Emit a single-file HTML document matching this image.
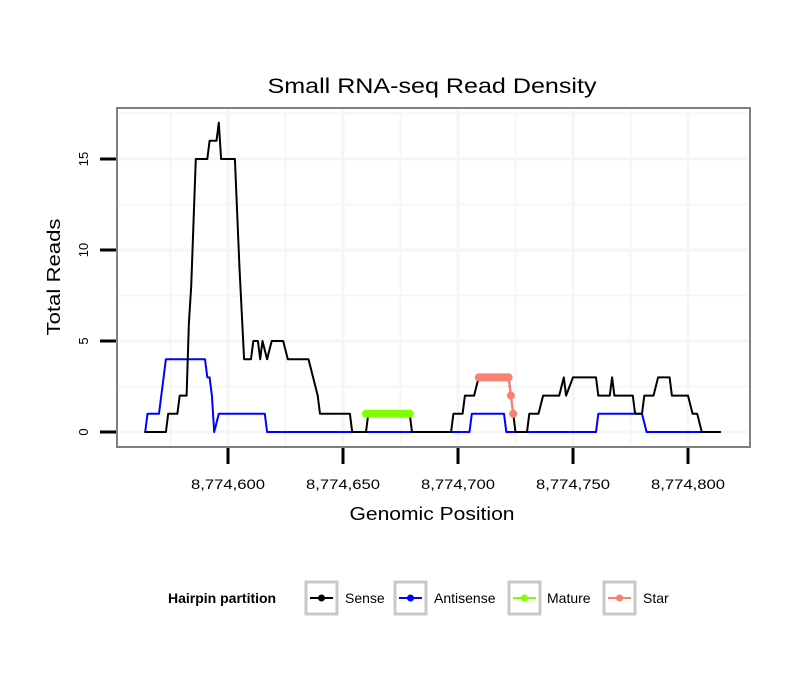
<!DOCTYPE html>
<html><head><meta charset="utf-8"><style>
body{margin:0;background:#fff;}
svg{display:block;font-family:"Liberation Sans",sans-serif;}
</style></head><body>
<svg id="chart" width="810" height="690" viewBox="0 0 810 690">
<text x="432" y="93" text-anchor="middle" font-size="21" textLength="329" lengthAdjust="spacingAndGlyphs">Small RNA-seq Read Density</text>
<rect x="117" y="108" width="633" height="339" fill="#fff" stroke="#7f7f7f" stroke-width="2"/>
<g id="grid"></g>
<g id="series"></g>
<g id="axes"></g>
<text x="432" y="520" text-anchor="middle" font-size="18" textLength="165" lengthAdjust="spacingAndGlyphs">Genomic Position</text>
<text transform="translate(60,277) rotate(-90)" text-anchor="middle" font-size="18" textLength="117" lengthAdjust="spacingAndGlyphs">Total Reads</text>
<g>
<text x="168" y="603" font-size="14" font-weight="bold">Hairpin partition</text>
<g><rect x="306" y="582" width="31" height="32" fill="#fff" stroke="#c8c8c8" stroke-width="3"/><line x1="310" y1="598" x2="333" y2="598" stroke="#000" stroke-width="2"/><circle cx="321.5" cy="598" r="3.5" fill="#000"/><text x="345" y="603" font-size="14">Sense</text></g>
<g><rect x="395" y="582" width="31" height="32" fill="#fff" stroke="#c8c8c8" stroke-width="3"/><line x1="399" y1="598" x2="422" y2="598" stroke="#0000ff" stroke-width="2"/><circle cx="410.5" cy="598" r="3.5" fill="#0000ff"/><text x="434" y="603" font-size="14">Antisense</text></g>
<g><rect x="509" y="582" width="31" height="32" fill="#fff" stroke="#c8c8c8" stroke-width="3"/><line x1="513" y1="598" x2="536" y2="598" stroke="#7fff00" stroke-width="2"/><circle cx="524.5" cy="598" r="3.5" fill="#7fff00"/><text x="547" y="603" font-size="14">Mature</text></g>
<g><rect x="604" y="582" width="31" height="32" fill="#fff" stroke="#c8c8c8" stroke-width="3"/><line x1="608" y1="598" x2="631" y2="598" stroke="#fa8072" stroke-width="2"/><circle cx="619.5" cy="598" r="3.5" fill="#fa8072"/><text x="643" y="603" font-size="14">Star</text></g>
</g>
</svg>
<script>
const xTicks = [8774600, 8774650, 8774700, 8774750, 8774800];
const xTickLabels = ["8,774,600", "8,774,650", "8,774,700", "8,774,750", "8,774,800"];
const yTicks = [0, 5, 10, 15];
const yTickLabels = ["0", "5", "10", "15"];
const senseX = [8774564,8774573,8774574,8774578,8774579,8774582,8774583,8774584,8774586,8774591,8774592,8774595,8774596,8774597,8774603,8774605,8774607,8774610,8774611,8774613,8774614,8774615,8774617,8774619,8774624,8774626,8774635,8774637,8774638,8774639,8774640,8774653,8774654,8774660,8774661,8774679,8774680,8774697,8774698,8774702,8774703,8774707,8774709,8774722,8774725,8774730,8774731,8774735,8774737,8774744,8774746,8774747,8774750,8774760,8774761,8774766,8774767,8774768,8774776,8774777,8774780,8774781,8774785,8774787,8774792,8774793,8774800,8774802,8774804,8774806,8774814];
const senseY = [0,0,1,1,2,2,6,8,15,15,16,16,17,15,15,9,4,4,5,5,4,5,4,5,5,4,4,3,2.5,2,1,1,0,0,1,1,0,0,1,1,2,2,3,3,0,0,1,1,2,2,3,2,3,3,2,2,3,2,2,1,1,2,2,3,3,2,2,1,1,0,0];
const antiX = [8774564,8774565,8774570,8774571,8774573,8774590,8774591,8774592,8774593,8774594,8774596,8774616,8774617,8774705,8774706,8774720,8774721,8774760,8774761,8774780,8774782,8774806];
const antiY = [0,1,1,2,4,4,3,3,2,0,1,1,0,0,1,1,0,0,1,1,0,0];
const matureX = [8774660,8774679];
const matureY = [1,1];
const starX = [8774709,8774722,8774723,8774724];
const starY = [3,3,2,1];

const X0 = 8774600, PX0 = 228, PXU = 2.3;
const Y0PX = 432, PYU = 18.2;
function xs(v){ return PX0 + (v - X0) * PXU; }
function ys(v){ return Y0PX - v * PYU; }
const NS = "http://www.w3.org/2000/svg";
function mk(tag, attrs, parent){ const e = document.createElementNS(NS, tag); for (const k in attrs) e.setAttribute(k, attrs[k]); parent.appendChild(e); return e; }
const grid = document.getElementById('grid'), series = document.getElementById('series'), axes = document.getElementById('axes');
const allX = [8774575,8774600,8774625,8774650,8774675,8774700,8774725,8774750,8774775,8774800];
allX.forEach(v => { const l = mk('line', {x1: xs(v), x2: xs(v), y1: 110, y2: 445, stroke: '#f5f5f5', 'stroke-width': (v % 50 === 0) ? 3 : 2}, grid);

 });
[0,2.5,5,7.5,10,12.5,15,17.5].forEach(v => { const l = mk('line', {x1: 119, x2: 748, y1: ys(v), y2: ys(v), stroke: '#f5f5f5', 'stroke-width': (v % 5 === 0) ? 3 : 2}, grid);

 });
xTicks.forEach((v, i) => {
  const t = mk('line', {x1: xs(v), x2: xs(v), y1: 448, y2: 464, stroke: '#000', 'stroke-width': 3}, axes);
  
  
  const tx = mk('text', {x: xs(v), y: 489, 'text-anchor': 'middle', 'font-size': 14, textLength: 74, lengthAdjust: 'spacingAndGlyphs'}, axes);
  tx.textContent = xTickLabels[i];
  
  
});
yTicks.forEach((v, i) => {
  const t = mk('line', {x1: 100, x2: 116, y1: ys(v), y2: ys(v), stroke: '#000', 'stroke-width': 3}, axes);
  
  
  const tx = mk('text', {transform: `translate(88,${ys(v)}) rotate(-90)`, 'text-anchor': 'middle', 'font-size': 13}, axes);
  tx.textContent = yTickLabels[i];
  
  
});
function line(xa, ya, color, w, name){
  const p = mk('polyline', {points: xa.map((x, i) => xs(x) + ',' + ys(ya[i])).join(' '), fill: 'none', stroke: color, 'stroke-width': w, 'stroke-linejoin': 'round', 'stroke-linecap': 'round'}, series);
  
  
  return p;
}
line(antiX, antiY, '#0000ff', 2, 'antisense-line');
line(senseX, senseY, '#000', 2, 'sense-line');
line(matureX, matureY, '#7fff00', 8, 'mature-line');
line(starX.slice(0,2), starY.slice(0,2), '#fa8072', 8, 'star-line');
line(starX.slice(1), starY.slice(1), '#fa8072', 2, 'star-tail-line');
starX.slice(2).forEach((x, i) => { const c = mk('circle', {cx: xs(x), cy: ys(starY[i+2]), r: 4, fill: '#fa8072'}, series);

 });
</script>
</body></html>
